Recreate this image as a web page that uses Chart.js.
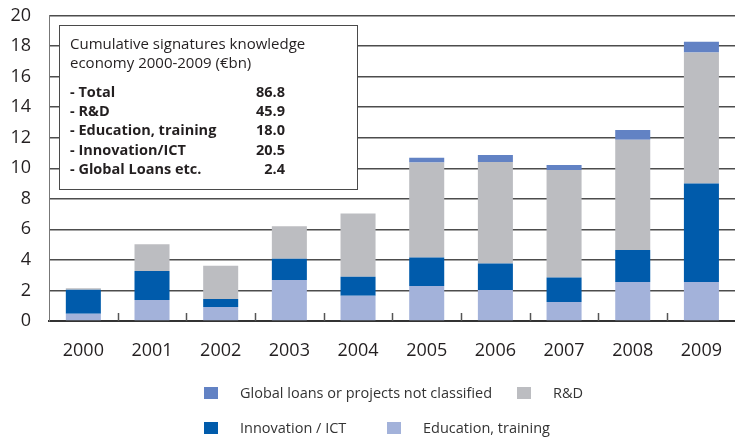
<!DOCTYPE html>
<html>
<head>
<meta charset="utf-8">
<script src="https://cdn.jsdelivr.net/npm/chart.js@4.4.1/dist/chart.umd.min.js"></script>
<style>
  html, body { margin: 0; padding: 0; background: #fff; overflow: hidden; }
  #wrap { position: relative; width: 741px; height: 439px; }
</style>
</head>
<body>
<div id="wrap"><canvas id="chart" width="741" height="439"></canvas></div>
<script>
const years = ['2000', '2001', '2002', '2003', '2004', '2005', '2006', '2007', '2008', '2009'];
const education = [0.48, 1.38, 0.92, 2.69, 1.66, 2.29, 2.03, 1.24, 2.55, 2.55];
const innovation = [1.57, 1.90, 0.52, 1.39, 1.24, 1.86, 1.73, 1.60, 2.10, 6.45];
const rnd = [0.10, 1.74, 2.18, 2.12, 4.13, 6.22, 6.65, 7.05, 7.21, 8.58];
const globalLoans = [0, 0, 0, 0, 0, 0.31, 0.46, 0.33, 0.65, 0.70];
const yTicks = [0, 2, 4, 6, 8, 10, 12, 14, 16, 18, 20];

const boxTitle = ['Cumulative signatures knowledge', 'economy 2000-2009 (€bn)'];
const summaryLabels = ['- Total', '- R&D', '- Education, training', '- Innovation/ICT', '- Global Loans etc.'];
const summaryValues = ['86.8', '45.9', '18.0', '20.5', '2.4'];

const FONT = '"Open Sans", "Noto Sans", sans-serif';

// info box in the top left corner
const infoBox = {
    id: 'infoBox',
    afterDatasetsDraw(chart) {
        const ctx = chart.ctx;
        ctx.save();
        ctx.fillStyle = '#fff';
        ctx.strokeStyle = '#4a4a4a';
        ctx.lineWidth = 1;
        ctx.fillRect(59.5, 25.5, 298, 164);
        ctx.strokeRect(59.5, 25.5, 298, 164);
        ctx.fillStyle = '#231f20';
        ctx.textBaseline = 'alphabetic';
        ctx.font = '15px ' + FONT;
        ctx.textAlign = 'left';
        ctx.fillText(boxTitle[0], 70, 49);
        ctx.fillText(boxTitle[1], 70, 68);
        ctx.font = 'bold 14.5px ' + FONT;
        summaryLabels.forEach((lbl, i) => {
            const y = 96.5 + i * 19.4;
            ctx.textAlign = 'left';
            ctx.fillText(lbl, 70, y);
            ctx.textAlign = 'right';
            ctx.fillText(summaryValues[i], 285, y);
        });
        ctx.restore();
    }
};

// small upward ticks between the years + custom legend
const extras = {
    id: 'extras',
    afterDraw(chart) {
        const ctx = chart.ctx;
        const x = chart.scales.x;
        const area = chart.chartArea;
        const step = (x.right - x.left) / years.length;
        ctx.save();
        ctx.strokeStyle = '#555';
        ctx.lineWidth = 1.5;
        for (let i = 1; i < years.length; i++) {
            const px = Math.round(x.left + i * step) + 0.5;
            ctx.beginPath();
            ctx.moveTo(px, area.bottom);
            ctx.lineTo(px, area.bottom - 8);
            ctx.stroke();
        }

        const ds = chart.data.datasets;
        const items = [
            { d: ds[3], sx: 204, tx: 240, y: 393 },
            { d: ds[2], sx: 517, tx: 553, y: 393 },
            { d: ds[1], sx: 204, tx: 240, y: 428 },
            { d: ds[0], sx: 387, tx: 423, y: 428 }
        ];
        ctx.font = '14.5px ' + FONT;
        ctx.textBaseline = 'middle';
        ctx.textAlign = 'left';
        items.forEach(it => {
            ctx.fillStyle = it.d.backgroundColor;
            ctx.fillRect(it.sx, it.y - 6, 14, 12);
            ctx.fillStyle = '#333';
            ctx.fillText(it.d.label, it.tx, it.y + 1);
        });
        ctx.restore();
    }
};

const ctx = document.getElementById('chart').getContext('2d');
new Chart(ctx, {
    type: 'bar',
    data: {
        labels: years,
        datasets: [
            { label: 'Education, training', data: education, backgroundColor: '#a3b2da' },
            { label: 'Innovation / ICT', data: innovation, backgroundColor: '#005bab' },
            { label: 'R&D', data: rnd, backgroundColor: '#bcbdc1' },
            { label: 'Global loans or projects not classified', data: globalLoans, backgroundColor: '#6282c4' }
        ]
    },
    options: {
        responsive: false,
        animation: false,
        layout: { padding: { top: 15.5, right: 0, bottom: 0, left: 0 } },
        datasets: {
            bar: { categoryPercentage: 1, barPercentage: 0.51, borderWidth: 0 }
        },
        plugins: {
            legend: { display: false },
            tooltip: { enabled: false }
        },
        scales: {
            x: {
                stacked: true,
                grid: { display: false, drawTicks: false },
                border: { display: true, color: '#333', width: 2 },
                ticks: { color: '#231f20', font: { family: FONT, size: 18 }, padding: 19 },
                afterFit(scale) { scale.height = 118; }
            },
            y: {
                stacked: true,
                min: 0,
                max: 20,
                afterBuildTicks(scale) { scale.ticks = yTicks.map(v => ({ value: v })); },
                grid: { color: '#4d4d4d', lineWidth: 1.5, drawTicks: true, tickLength: 18, tickColor: 'transparent' },
                border: { display: true, color: '#777', width: 1 },
                ticks: { color: '#231f20', font: { family: FONT, size: 18 }, padding: 0 },
                afterFit(scale) { scale.width = 49; }
            }
        }
    },
    plugins: [infoBox, extras]
});
</script>
</body>
</html>
